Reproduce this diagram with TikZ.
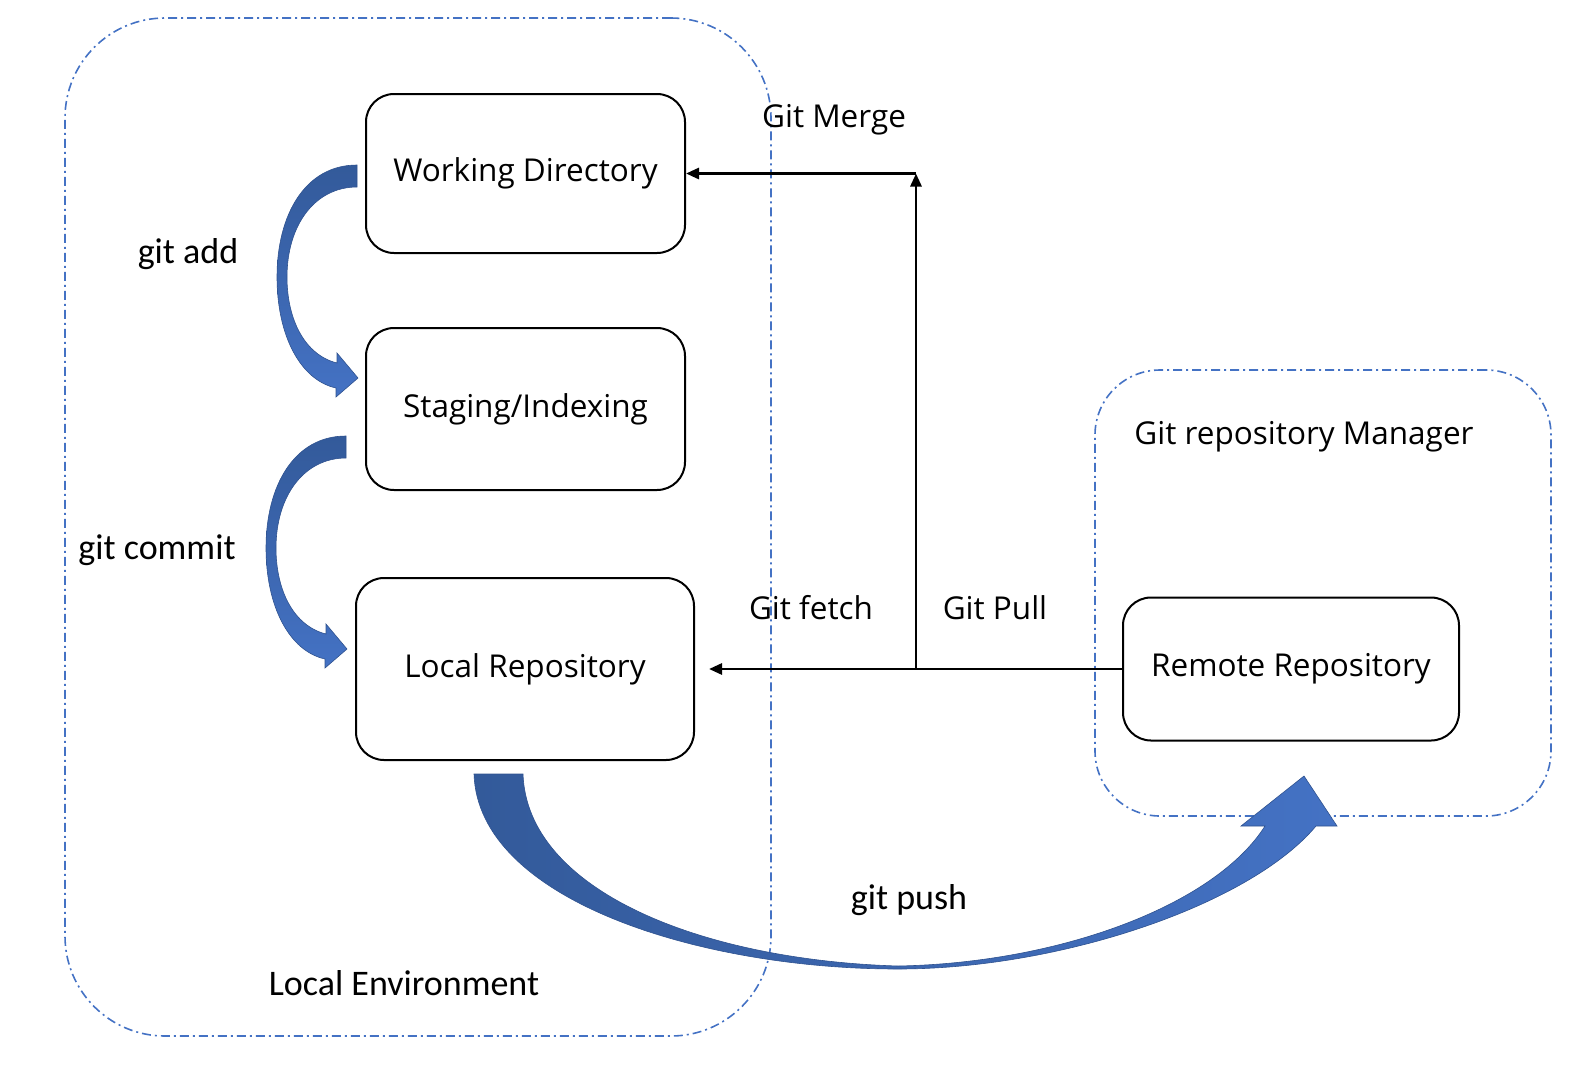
\documentclass[tikz,border=0pt]{standalone}
\usepackage{fontspec}
\setmainfont{Open Sans}
\newfontfamily\calib{Carlito}
\usetikzlibrary{
    arrows.meta,
    positioning,
    calc
}
\definecolor{envblue}{HTML}{4472C4}
\definecolor{backblue}{HTML}{335A9A}
\definecolor{edgeblue}{HTML}{2F528F}
\tikzset{
    stage/.style={draw, line width=2pt, rounded corners=28pt, minimum width=319pt, minimum height=159pt, font=\fontsize{31.5}{36}\selectfont},
    envbox/.style={draw=envblue, line width=1.6pt, dash pattern=on 9pt off 4pt on 2pt off 4pt},
    lbl/.style={font=\fontsize{31.5}{36}\selectfont},
    cmd/.style={font=\calib\fontsize{36}{42}\selectfont},
    link/.style={-{Triangle[length=13pt,width=11pt]}, line width=2.8pt},
    blockarrow/.style={draw=edgeblue, line width=0.6pt, top color=backblue, bottom color=envblue}
}
% curved block arrow, tail top corner at #1
\newcommand{\bendarrow}[1]{
    \begin{scope}[shift={#1}]
        \draw[blockarrow] (0,0) .. controls (-52,0) and (-80,50) .. (-80,112)
            .. controls (-80,170) and (-57,215) .. (-21,223) -- (-21,232) -- (1,213) -- (-20,188) -- (-20,198)
            .. controls (-52,190) and (-70,155) .. (-70,112)
            .. controls (-70,60) and (-42,22) .. (0,22) -- cycle;
    \end{scope}
}

\begin{document}
\begin{tikzpicture}[x=1pt, y=-1pt]
    \useasboundingbox (0,0) rectangle (1572,1072);

    % environments
    \node[envbox, rounded corners=100pt, minimum width=706pt, minimum height=1018pt] (localenv) at (418,527) {};
    \node[envbox, rounded corners=65pt, minimum width=456pt, minimum height=446pt] (remoteenv) at (1323,593) {};

    % stages
    \node[stage] (work) at (525.5,173.5) {Working Directory};
    \node[stage, minimum height=162pt] (stage) at (525.5,409) {Staging/Indexing};
    \node[stage, minimum width=338pt, minimum height=182pt] (local) at (525,669) {Local Repository};
    \node[stage, minimum width=336pt, minimum height=143pt] (remote) at (1291,669) {Remote Repository};

    % fetch / pull / merge
    \coordinate (pull) at (916,669);
    \coordinate (merge) at (916,173.5);
    \draw[link, shorten >=14pt] (remote.west) -- (local.east);
    \draw[link] (pull) -- (merge);
    \draw[link] (merge) -- (work.east);

    \node[lbl] (mergetxt) at (834,120) {Git Merge};
    \node[lbl] (fetchtxt) at (811,608) {Git fetch};
    \node[lbl] (pulltxt) at (995,608) {Git Pull};
    \node[lbl] (mgrtxt) at (1304,437) {Git repository Manager};

    % add / commit
    \bendarrow{(357,165)}
    \bendarrow{(346,436)}
    \node[cmd] (addtxt) at (188,254) {git add};
    \node[cmd] (committxt) at (157,550) {git commit};

    % push
    \draw[draw=edgeblue, line width=0.6pt, left color=backblue, right color=envblue]
        (474,774) .. controls (478,900) and (700,969) .. (898,969)
        .. controls (1060,969) and (1250,905) .. (1316,826) -- (1337,826) -- (1304,776) -- (1241,826) -- (1265,826)
        .. controls (1215,905) and (1060,963) .. (898,966)
        .. controls (700,960) and (527,890) .. (523,774) -- cycle;
    \node[cmd] (pushtxt) at (909,900) {git push};
    \node[cmd] (envtxt) at (404,983) {Local Environment};
\end{tikzpicture}
\end{document}
